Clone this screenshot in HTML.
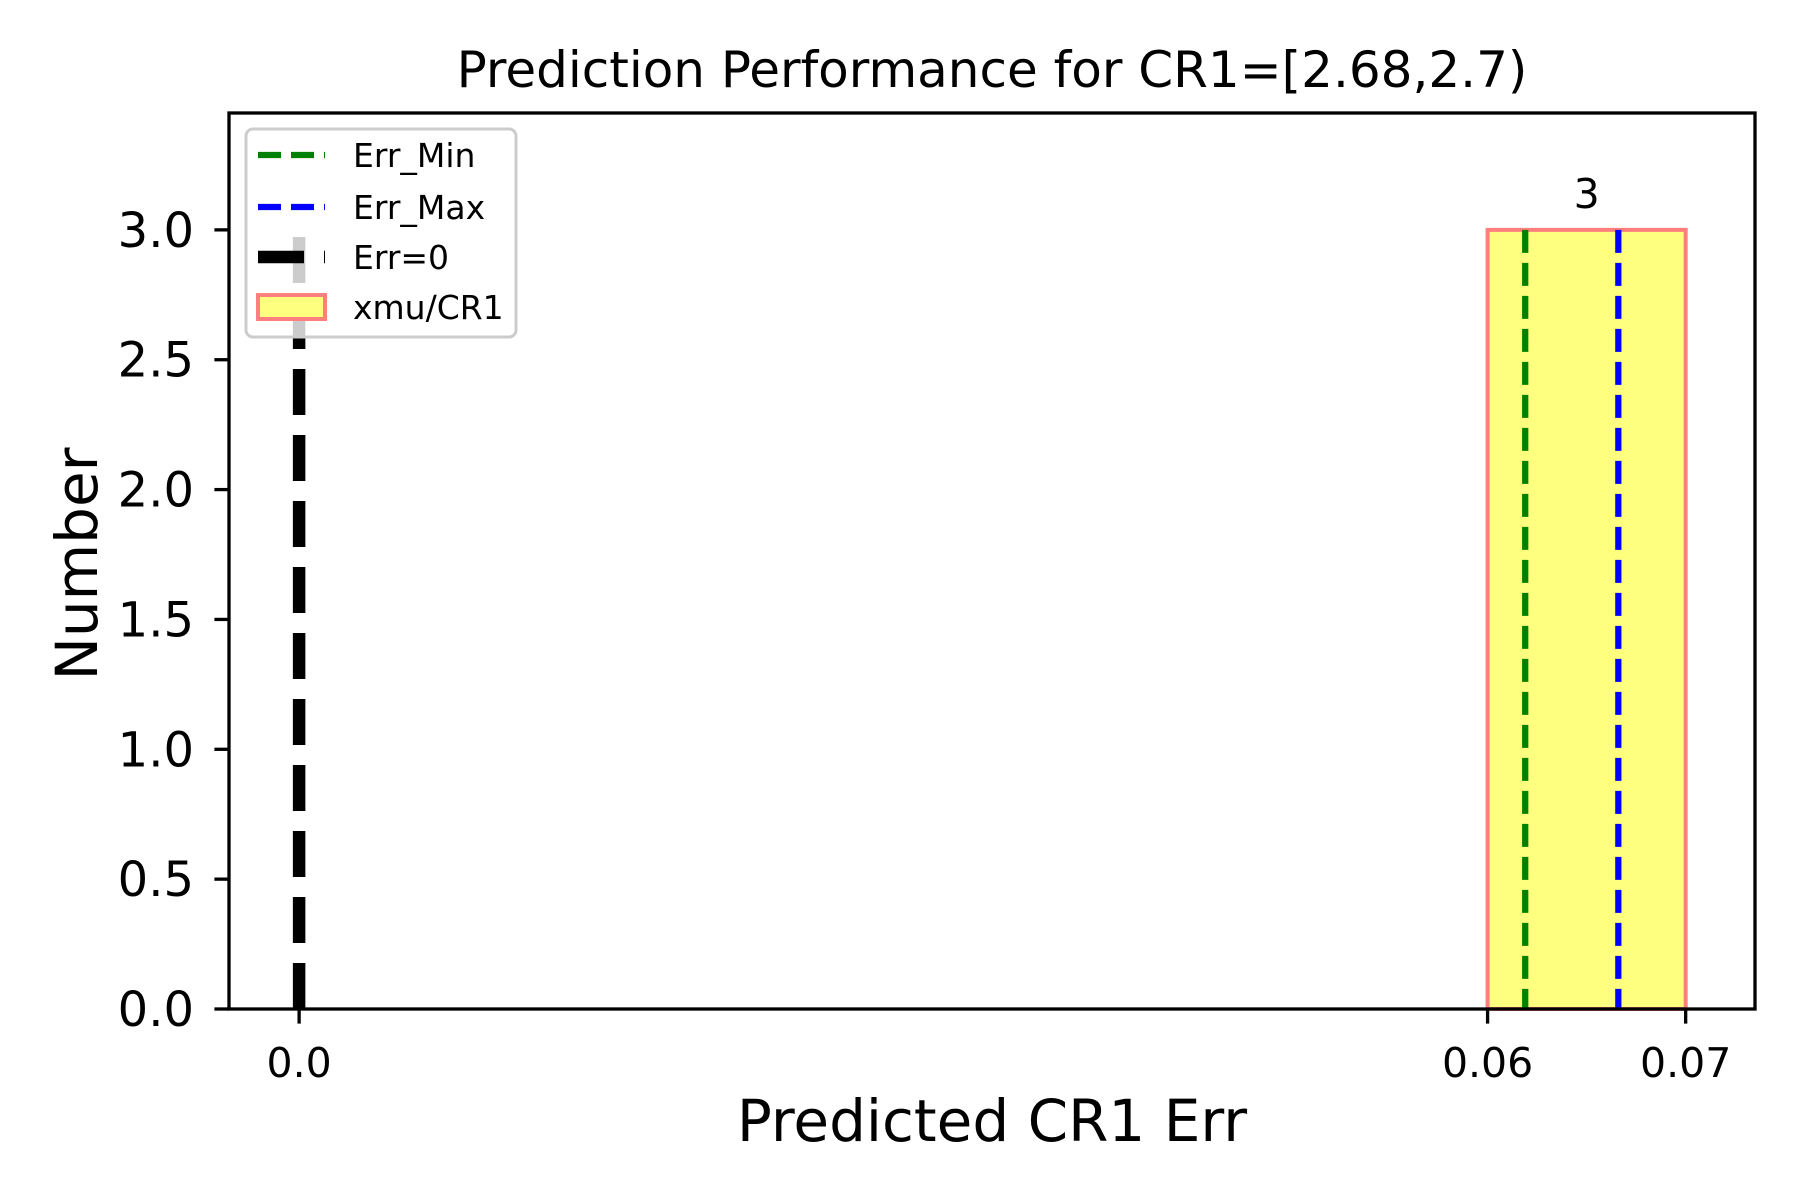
<!DOCTYPE html>
<html><head><meta charset="utf-8"><style>
html,body{margin:0;padding:0;background:#fff;}
svg{display:block;font-family:"DejaVu Sans","Liberation Sans",sans-serif;}
</style></head><body>
<svg id="chart" width="1800" height="1200" viewBox="0 0 1800 1200">
<rect x="0" y="0" width="1800" height="1200" fill="#fff"/>
<g id="plot"></g>
</svg>
<script>
const binEdges = [0.06, 0.07];
const binCounts = [3];
const errMin = 0.0619;
const errMax = 0.0666;
const errZero = 0;
const xTicks = [0.0, 0.06, 0.07];
const xTickLabels = ["0.0", "0.06", "0.07"];
const yTicks = [0, 0.5, 1, 1.5, 2, 2.5, 3];
const yTickLabels = ["0.0", "0.5", "1.0", "1.5", "2.0", "2.5", "3.0"];

const L = 229, R = 1755, T = 113, B = 1009;
const xMin = -0.00354, xMax = 0.0735, yMin = 0, yMax = 3.45;
const sx = v => L + (v - xMin) / (xMax - xMin) * (R - L);
const sy = v => B - (v - yMin) / (yMax - yMin) * (B - T);
const NS = "http://www.w3.org/2000/svg";
const g = document.getElementById('plot');
function mk(tag, attrs, parent) {
  const e = document.createElementNS(NS, tag);
  for (const k in attrs) e.setAttribute(k, attrs[k]);
  (parent || g).appendChild(e);
  return e;
}

binCounts.forEach((c, i) => {
  const x0 = sx(binEdges[i]), x1 = sx(binEdges[i + 1]);
  const r = mk('rect', {x: x0, y: sy(c), width: x1 - x0, height: sy(0) - sy(c), fill: '#ffff7f', stroke: '#ff7f7f', 'stroke-width': 4});
  
  
  const t = mk('text', {x: (x0 + x1) / 2, y: sy(c) - 22, 'font-size': 41, 'text-anchor': 'middle'});
  t.textContent = String(c);
  
  
});

const lmin = mk('line', {x1: sx(errMin), x2: sx(errMin), y1: sy(3), y2: sy(0), stroke: 'green', 'stroke-width': 6.25, 'stroke-dasharray': '23 10'});


const lmax = mk('line', {x1: sx(errMax), x2: sx(errMax), y1: sy(3), y2: sy(0), stroke: 'blue', 'stroke-width': 6.25, 'stroke-dasharray': '23 10'});


const l0 = mk('line', {x1: sx(errZero), x2: sx(errZero), y1: sy(0), y2: sy(3), stroke: '#000', 'stroke-width': 12.5, 'stroke-dasharray': '46 20'});



const frame = mk('rect', {x: L, y: T, width: R - L, height: B - T, fill: 'none', stroke: '#000', 'stroke-width': 3.3});



xTicks.forEach((v, i) => {
  const x = sx(v);
  mk('line', {x1: x, x2: x, y1: B, y2: B + 14.6, stroke: '#000', 'stroke-width': 3.3});
  const t = mk('text', {x: x, y: B + 68, 'font-size': 41, 'text-anchor': 'middle'});
  t.textContent = xTickLabels[i];
  
  
});
yTicks.forEach((v, i) => {
  const y = sy(v);
  mk('line', {x1: L, x2: L - 14.6, y1: y, y2: y, stroke: '#000', 'stroke-width': 3.3});
  const t = mk('text', {x: 194, y: y + 17, 'font-size': 48, 'text-anchor': 'end'});
  t.textContent = yTickLabels[i];
  
  
});
</script>
<svg style="position:absolute;left:0;top:0" width="1800" height="1200">
<text x="992" y="87" font-size="50" text-anchor="middle" font-family="DejaVu Sans, Liberation Sans, sans-serif">Prediction Performance for CR1=[2.68,2.7)</text>
<text x="992" y="1141" font-size="58" text-anchor="middle" font-family="DejaVu Sans, Liberation Sans, sans-serif">Predicted CR1 Err</text>
<text transform="translate(97,564) rotate(-90)" font-size="58" text-anchor="middle" font-family="DejaVu Sans, Liberation Sans, sans-serif">Number</text>
<g font-family="DejaVu Sans, Liberation Sans, sans-serif" font-size="33">
<rect x="246" y="129" width="270" height="208" rx="7" fill="#fff" fill-opacity="0.8" stroke="#cccccc" stroke-width="3"/>
<line x1="258" y1="155" x2="325" y2="155" stroke="green" stroke-width="6.25" stroke-dasharray="23 10"/>
<text x="353" y="167">Err_Min</text>
<line x1="258" y1="207" x2="325" y2="207" stroke="blue" stroke-width="6.25" stroke-dasharray="23 10"/>
<text x="353" y="219">Err_Max</text>
<line x1="258" y1="257" x2="325" y2="257" stroke="#000" stroke-width="12.5" stroke-dasharray="46 20"/>
<text x="353" y="269">Err=0</text>
<rect x="258" y="295" width="67" height="24" fill="#ffff7f" stroke="#ff7f7f" stroke-width="4"/>
<text x="353" y="319">xmu/CR1</text>
</g>
</svg>
</body></html>
